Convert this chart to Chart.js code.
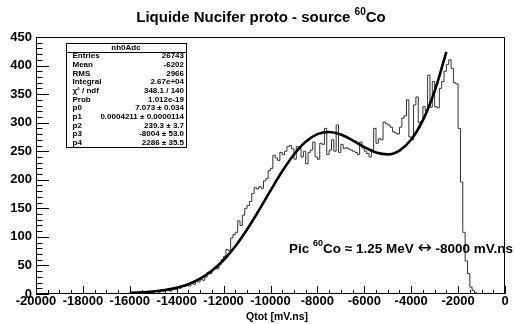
<!DOCTYPE html>
<html>
<head>
<meta charset="utf-8">
<script src="https://cdn.jsdelivr.net/npm/chart.js@4.4.1/dist/chart.umd.min.js"></script>
<style>
  html, body { margin: 0; padding: 0; background: #fff; }
  #wrap { width: 515px; height: 324px; }
</style>
</head>
<body>
<div id="wrap"><canvas id="qtot" width="515" height="324"></canvas></div>
<script>
// Qtot spectrum of the Nucifer liquid prototype with a 60Co source, with its expo+gaus fit

const FONT = "'Liberation Sans', Arial, Helvetica, sans-serif";

// histogram nh0Adc: 100 mV.ns bins starting at -16000
const BIN_LOW = -16000;
const BIN_WIDTH = 100;
const counts = [
  2, 1, 3, 2, 3, 2, 4, 3, 2, 5,
  4, 5, 6, 3, 7, 5, 8, 6, 5, 9,
  8, 12, 10, 14, 13, 15, 14, 19, 17, 22,
  21, 26, 24, 30, 38, 36, 42, 47, 44, 52,
  60, 66, 78, 76, 98, 104, 108, 128, 120, 138,
  150, 155, 162, 176, 186, 184, 188, 185, 198, 202,
  216, 220, 243, 238, 234, 248, 244, 250, 258, 260,
  254, 236, 258, 256, 240, 250, 228, 248, 252, 266,
  240, 236, 264, 262, 290, 244, 252, 270, 250, 296,
  248, 262, 255, 256, 254, 252, 250, 248, 244, 266,
  256, 250, 246, 240, 252, 290, 264, 272, 270, 301,
  298, 296, 292, 284, 282, 280, 292, 308, 312, 340,
  275, 270, 331, 345, 300, 302, 328, 320, 383, 327,
  372, 328, 326, 360, 372, 390, 402, 410, 395, 370,
  368, 290, 196, 108, 58, 36, 12, 6, 2, 1
];

// fitted curve, sampled every 500 mV.ns over the fit range
const fitX = [
  -16000, -15500, -15000, -14500, -14000, -13500, -13000, -12500, -12000, -11500,
  -11000, -10500, -10000, -9500, -9000, -8500, -8000, -7500, -7000, -6500,
  -6000, -5500, -5000, -4500, -4000, -3500, -3000, -2500
];
const fitY = [
  1.9, 2.8, 4.3, 6.9, 10.9, 17.3, 26.9, 40.7, 59.5, 83.6,
  112.9, 146.1, 181.0, 214.8, 244.3, 266.6, 279.9, 283.7, 279.2, 269.1,
  257.3, 247.8, 244.5, 251.2, 270.4, 304.5, 355.3, 424.0
];

// axis labels
const xTickValues = [-20000, -18000, -16000, -14000, -12000, -10000, -8000, -6000, -4000, -2000, 0];
const yTickValues = [0, 50, 100, 150, 200, 250, 300, 350, 400, 450];

// stats box
const statTitle = 'nh0Adc';
const statNames = ['Entries', 'Mean', 'RMS', 'Integral', 'χ² / ndf', 'Prob', 'p0', 'p1', 'p2', 'p3', 'p4'];
const statValues = ['26743', '-6202', '2966', '2.67e+04', '348.1 / 140', '1.012e-19',
  '7.073 ± 0.034', '0.0004211 ± 0.0000114', '239.3 ± 3.7', '-8004 ± 53.0', '2286 ± 35.5'];

// histogram outline as bin-edge steps
const histPoints = [{ x: BIN_LOW, y: 0 }];
counts.forEach((c, i) => histPoints.push({ x: BIN_LOW + i * BIN_WIDTH, y: c }));
histPoints.push({ x: BIN_LOW + counts.length * BIN_WIDTH, y: 0 });

const fitPoints = fitX.map((x, i) => ({ x, y: fitY[i] }));

// text made of pieces: {t, sup} for superscripts, {t, font, dy} for symbol glyphs
function drawRich(ctx, parts, x, y, size, align) {
  const supSize = Math.round(size * 0.68);
  const fontOf = p => p.font || `bold ${p.sup ? supSize : size}px ${FONT}`;
  const widths = parts.map(p => {
    ctx.font = fontOf(p);
    return ctx.measureText(p.t).width;
  });
  const total = widths.reduce((a, b) => a + b, 0);
  let cx = x;
  if (align === 'center') cx = x - total / 2;
  if (align === 'right') cx = x - total;
  ctx.textAlign = 'left';
  ctx.textBaseline = 'alphabetic';
  parts.forEach((p, i) => {
    ctx.font = fontOf(p);
    ctx.fillText(p.t, cx, (p.sup ? y - size * 0.45 : y) + (p.dy || 0));
    cx += widths[i];
  });
}

const rootDecor = {
  id: 'rootDecor',
  beforeDatasetsDraw(chart) {
    const { ctx, chartArea: a, scales: { x, y } } = chart;
    ctx.save();
    ctx.strokeStyle = '#000';
    ctx.lineWidth = 1;
    ctx.beginPath();
    // inward ticks: bottom axis major 2000 / minor 500, left axis major 50 / minor 10
    for (let v = -20000; v <= 0; v += 500) {
      const px = Math.round(x.getPixelForValue(v)) + 0.5;
      const len = v % 2000 === 0 ? 8 : 4;
      ctx.moveTo(px, a.bottom);
      ctx.lineTo(px, a.bottom - len);
    }
    for (let v = 0; v <= 450; v += 10) {
      const py = Math.round(y.getPixelForValue(v)) + 0.5;
      const len = v % 50 === 0 ? 13 : 6.5;
      ctx.moveTo(a.left, py);
      ctx.lineTo(a.left + len, py);
    }
    ctx.stroke();
    ctx.strokeRect(Math.round(a.left) + 0.5, Math.round(a.top) + 0.5,
      Math.round(a.right - a.left) - 1, Math.round(a.bottom - a.top) - 1);
    ctx.restore();
  },
  afterDraw(chart) {
    const { ctx } = chart;
    ctx.save();
    ctx.fillStyle = '#000';

    // title
    drawRich(ctx, [{ t: 'Liquide Nucifer proto - source ' }, { t: '60', sup: true }, { t: 'Co' }],
      261, 22, 15, 'center');

    // axis title
    ctx.font = `bold 10.5px ${FONT}`;
    ctx.textAlign = 'center';
    ctx.textBaseline = 'alphabetic';
    ctx.fillText('Qtot [mV.ns]', 277, 320);

    // peak annotation
    drawRich(ctx, [
      { t: 'Pic ' }, { t: '60', sup: true }, { t: 'Co ≈ 1.25 MeV ' },
      { t: '↔', font: "17px 'DejaVu Sans', sans-serif", dy: 0.5 },
      { t: ' -8000 mV.ns' }
    ], 513, 252.5, 13.5, 'right');

    // stats box
    const bx = 66, by = 43, bw = 120, bh = 104;
    const row = bh / 12;
    ctx.fillStyle = '#fff';
    ctx.fillRect(bx, by, bw, bh);
    ctx.strokeStyle = '#000';
    ctx.lineWidth = 1;
    ctx.strokeRect(bx + 0.5, by + 0.5, bw, bh);
    ctx.beginPath();
    ctx.moveTo(bx, Math.round(by + row) + 0.5);
    ctx.lineTo(bx + bw, Math.round(by + row) + 0.5);
    ctx.stroke();
    ctx.fillStyle = '#000';
    ctx.font = `bold 8px ${FONT}`;
    ctx.textBaseline = 'middle';
    ctx.textAlign = 'center';
    ctx.fillText(statTitle, bx + bw / 2, by + row * 0.5);
    statNames.forEach((name, k) => {
      const ry = by + row * (k + 1.5);
      ctx.textAlign = 'left';
      ctx.fillText(name, bx + 6.5, ry);
      ctx.textAlign = 'right';
      ctx.fillText(statValues[k], bx + bw - 2, ry);
    });
    ctx.restore();
  }
};

const tickFont = { family: FONT, size: 13, weight: 'bold' };

new Chart(document.getElementById('qtot'), {
  type: 'line',
  data: {
    datasets: [
      {
        label: 'fit',
        data: fitPoints,
        borderColor: '#000',
        borderWidth: 2.6,
        pointRadius: 0,
        cubicInterpolationMode: 'monotone',
        fill: false
      },
      {
        label: 'nh0Adc',
        data: histPoints,
        borderColor: '#333',
        borderWidth: 1,
        pointRadius: 0,
        stepped: 'after',
        fill: false
      }
    ]
  },
  options: {
    responsive: false,
    devicePixelRatio: 1,
    animation: false,
    layout: { padding: { top: 37, right: 10, left: 0, bottom: 0 } },
    plugins: { legend: { display: false }, title: { display: false }, tooltip: { enabled: false } },
    scales: {
      x: {
        type: 'linear',
        min: -20000,
        max: 0,
        grid: { display: false, drawTicks: false },
        border: { display: false },
        afterBuildTicks: s => { s.ticks = xTickValues.map(v => ({ value: v })); },
        afterFit: s => { s.height = 30; },
        ticks: {
          font: tickFont,
          color: '#000',
          padding: 0,
          maxRotation: 0,
          autoSkip: false,
          callback: v => String(v)
        }
      },
      y: {
        type: 'linear',
        min: 0,
        max: 450,
        grid: { display: false, drawTicks: false },
        border: { display: false },
        afterBuildTicks: s => { s.ticks = yTickValues.map(v => ({ value: v })); },
        afterFit: s => { s.width = 36; },
        ticks: {
          font: tickFont,
          color: '#000',
          padding: 4,
          autoSkip: false,
          callback: v => String(v)
        }
      }
    }
  },
  plugins: [rootDecor]
});
</script>
</body>
</html>
